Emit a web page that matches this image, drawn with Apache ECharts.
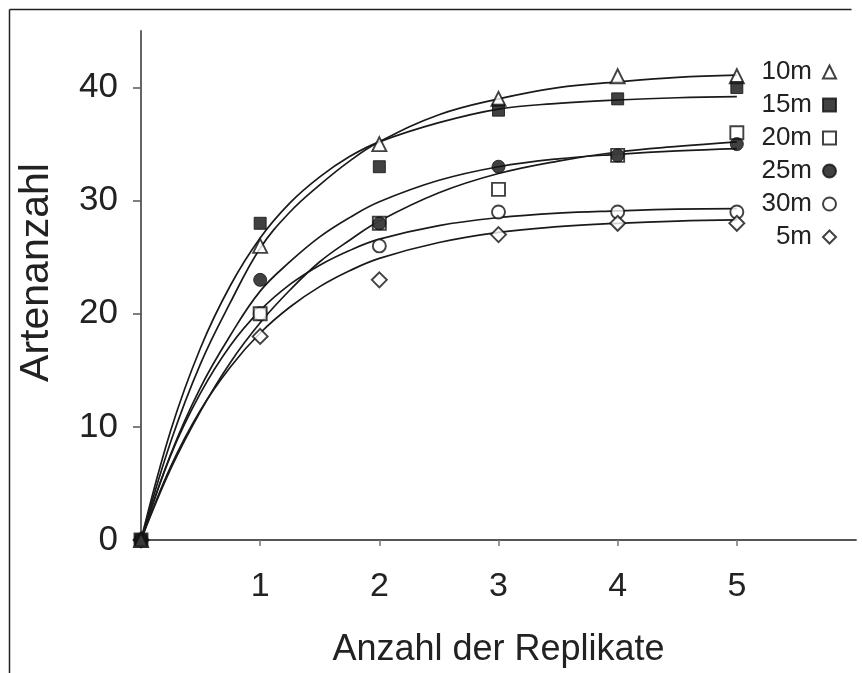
<!DOCTYPE html>
<html><head><meta charset="utf-8">
<script src="https://cdn.jsdelivr.net/npm/echarts@6/dist/echarts.min.js"></script>
<style>html,body{margin:0;padding:0;background:#fff}#c{width:862px;height:673px}</style>
</head><body><div id="c"></div>
<script>
// Observed points
const xPoints = [0, 1, 2, 3, 4, 5];
const p10 = [0, 26, 35, 39, 41, 41];
const p15 = [0, 28, 33, 38, 39, 40];
const p20 = [0, 20, 28, 31, 34, 36];
const p25 = [0, 23, 28, 33, 34, 35];
const p30 = [0, 20, 26, 29, 29, 29];
const p5  = [0, 18, 23, 27, 28, 28];

// Fitted curves
const xCurve = [0, 0.25, 0.5, 0.75, 1, 1.25, 1.5, 1.75, 2, 2.5, 3, 3.5, 4, 4.5, 5];
const c10 = [0, 8.7, 15.6, 21.0, 25.8, 29.0, 31.4, 33.5, 35.2, 37.6, 39.0, 40.0, 40.5, 40.9, 41.1];
const c15 = [0, 9.7, 17.0, 22.5, 26.7, 29.8, 32.1, 33.9, 35.2, 36.9, 38.1, 38.6, 38.9, 39.1, 39.2];
const c20 = [0, 6.3, 11.4, 15.7, 19.2, 22.1, 24.6, 26.5, 28.2, 30.7, 32.4, 33.5, 34.3, 34.8, 35.2];
const c25 = [0, 7.6, 13.5, 18.1, 22.0, 24.6, 26.8, 28.5, 29.9, 31.8, 33.0, 33.7, 34.1, 34.4, 34.6];
const c30 = [0, 7.5, 13.0, 17.2, 20.3, 22.6, 24.3, 25.6, 26.6, 27.8, 28.5, 28.9, 29.1, 29.25, 29.3];
const c5  = [0, 6.5, 11.5, 15.3, 18.3, 20.6, 22.4, 23.8, 24.9, 26.3, 27.2, 27.7, 28.0, 28.2, 28.3];

const yTicks = [0, 10, 20, 30, 40];
const xTicks = [1, 2, 3, 4, 5];
const legendNames = ['10m', '15m', '20m', '25m', '30m', '5m'];

const FONT = "'Liberation Sans', Arial, sans-serif";
const zip = (xs, ys) => xs.map((x, i) => [x, ys[i]]);

function curve(ys) {
  return {
    type: 'line', data: zip(xCurve, ys), smooth: 0.4, symbol: 'none',
    lineStyle: { color: '#1a1a1a', width: 1.7 }, silent: true, z: 2
  };
}
function pts(name, ys, symbol, size, filled, z) {
  return {
    type: 'scatter', name: name, data: zip(xPoints, ys), symbol: symbol, symbolSize: size,
    itemStyle: filled ? { color: '#111', borderColor: '#111', borderWidth: 1 }
                      : { color: '#fff', borderColor: '#111', borderWidth: 1.9 },
    z: z
  };
}

const chart = echarts.init(document.getElementById('c'));
chart.setOption({
  animation: false,
  backgroundColor: '#fff',
  graphic: [
    { type: 'line', shape: { x1: 9.5, y1: 9.5, x2: 851.5, y2: 9.5 }, style: { stroke: '#222', lineWidth: 1.5 } },
    { type: 'line', shape: { x1: 9.5, y1: 9.5, x2: 9.5, y2: 673 }, style: { stroke: '#222', lineWidth: 1.5 } }
  ],
  grid: { left: 141, top: 31, width: 715, height: 514, containLabel: false },
  xAxis: {
    type: 'value', min: 0, max: 6,
    splitLine: { show: false },
    axisLine: { lineStyle: { color: '#555', width: 1.8 } },
    axisTick: { show: true, customValues: xTicks, length: 6, lineStyle: { color: '#777', width: 1.5 } },
    axisLabel: { customValues: xTicks, fontSize: 34, color: '#222', fontFamily: FONT, margin: 30 },
    name: 'Anzahl der Replikate', nameLocation: 'middle', nameGap: 92,
    nameTextStyle: { fontSize: 36, color: '#222', fontFamily: FONT }
  },
  yAxis: {
    type: 'value', min: 0, max: 45,
    splitLine: { show: false },
    axisLine: { show: true, lineStyle: { color: '#555', width: 1.8 } },
    axisTick: { show: true, customValues: yTicks, length: 8, lineStyle: { color: '#555', width: 1.5 } },
    axisLabel: { customValues: yTicks, fontSize: 35, color: '#222', fontFamily: FONT, margin: 23 },
    name: 'Artenanzahl', nameLocation: 'middle', nameGap: 84, nameRotate: 90,
    nameTextStyle: { fontSize: 41, color: '#222', fontFamily: FONT, padding: [0, 0, 0, 26] }
  },
  legend: {
    data: legendNames, orient: 'vertical', right: 20, top: 54, align: 'right',
    itemWidth: 13, itemHeight: 13, itemGap: 7,
    textStyle: { fontSize: 26, color: '#222', fontFamily: FONT, padding: [0, 6, 0, 0] },
    selectedMode: false
  },
  series: [
    curve(c10), curve(c15), curve(c20), curve(c25), curve(c30), curve(c5),
    pts('30m', p30, 'circle', 13, false, 3),
    pts('5m', p5, 'diamond', 15, false, 3),
    pts('20m', p20, 'rect', 13, false, 4),
    pts('25m', p25, 'circle', 13, true, 5),
    pts('10m', p10, 'triangle', 14, false, 5),
    pts('15m', p15, 'rect', 12, true, 6)
  ]
});
</script></body></html>
